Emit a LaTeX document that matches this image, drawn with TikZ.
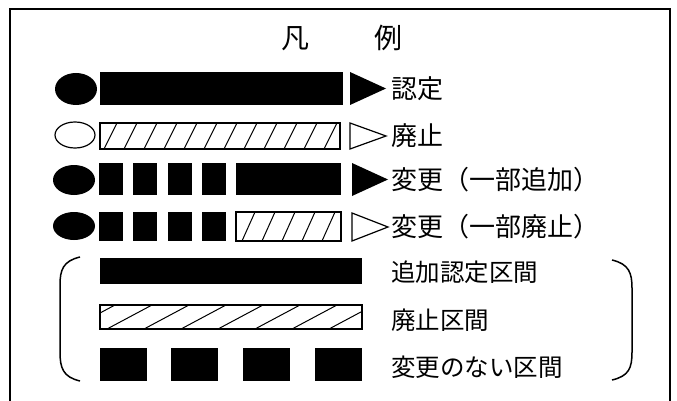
\documentclass[tikz,border=0pt]{standalone}
\usepackage{fontspec}
\setmainfont{Noto Sans CJK JP}
\begin{document}
\begin{tikzpicture}[x=1pt,y=-1pt,
  thin edge/.style={draw=black,line width=1.2pt},
  hatchline/.style={line width=1pt},
  legendtext/.style={anchor=west,inner sep=0pt,font=\fontsize{26}{26}\selectfont},
  kukantext/.style={legendtext,font=\fontsize{24.5}{25}\selectfont}]
\useasboundingbox (0,0) rectangle (677,401);
\draw[line width=1.8pt] (10,401) -- (10,9) -- (670,9) -- (670,401);
\node (title) at (342,38) {\fontsize{28}{28}\selectfont 凡\hspace{2.3em}例};
% row 1
\fill[black] (76,89) ellipse [x radius=21pt,y radius=16pt];
\fill[black] (100,72) rectangle (343,105);
\fill[black] (350,72) -- (350,105) -- (386,88.5) -- cycle;
\node[legendtext] (nintei) at (391,89) {認定};
% row 2
\draw[thin edge] (75,135) ellipse [x radius=20pt,y radius=13pt];
\begin{scope}
\clip (100,123) rectangle (340,149);
\foreach \x in {84,104,...,344} \draw[hatchline] (\x,149) -- (\x+13,123);
\end{scope}
\draw[thin edge] (100,123) rectangle (340,149);
\draw[thin edge] (350,123) -- (350,149) -- (386,136) -- cycle;
\node[legendtext] (haishi) at (391,136) {廃止};
% row 3
\fill[black] (74,180) ellipse [x radius=21pt,y radius=15pt];
\foreach \x in {99,133,168,202} \fill[black] (\x,163) rectangle ++(24,32);
\fill[black] (236,163) rectangle (341,195);
\fill[black] (352,163) -- (352,196) -- (388,179.5) -- cycle;
\node[legendtext] (tsuika) at (391,180) {変更（一部追加）};
% row 4
\fill[black] (74,226) ellipse [x radius=21pt,y radius=14pt];
\foreach \x in {99,133,168,202} \fill[black] (\x,212) rectangle ++(24,29);
\begin{scope}
\clip (236,212) rectangle (341,241);
\foreach \x in {222,242,...,342} \draw[hatchline] (\x,241) -- (\x+13,212);
\end{scope}
\draw[thin edge] (236,212) rectangle (341,241);
\draw[thin edge] (352,213) -- (352,241) -- (388,227) -- cycle;
\node[legendtext] (bubun) at (391,227) {変更（一部廃止）};
% bracketed part
\fill[black] (100,258) rectangle (362,284);
\begin{scope}
\clip (100,305) rectangle (362,329);
\foreach \x in {70,107,...,370} \draw[hatchline] (\x,329) -- (\x+45,305);
\end{scope}
\draw[thin edge] (100,305) rectangle (362,329);
\foreach \x in {100,171,243,315} \fill[black] (\x,348) rectangle ++(47,33);
\node[kukantext] (kukan1) at (391,272) {追加認定区間};
\node[kukantext] (kukan2) at (391,320) {廃止区間};
\node[kukantext] (kukan3) at (391,367) {変更のない区間};
\draw[line width=1.5pt] (80,257) .. controls (63,261) and (60,270) .. (60,285) -- (60,352)
  .. controls (60,368) and (63,377) .. (80,381);
\draw[line width=1.5pt] (612,260) .. controls (629,264) and (632,273) .. (632,288) -- (632,352)
  .. controls (632,368) and (629,376) .. (612,380);
\end{tikzpicture}
\end{document}
